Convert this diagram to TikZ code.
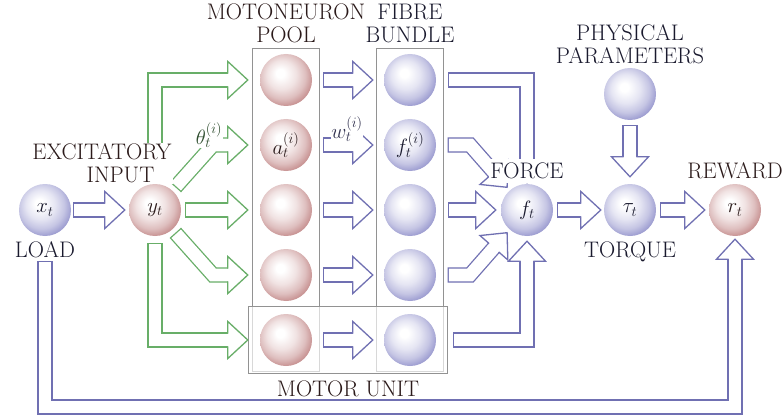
\documentclass[tikz,border=0pt]{standalone}
\usepackage{tikz}
\usetikzlibrary{positioning,fit,backgrounds}
\definecolor{pinkc}{RGB}{182,112,112}
\definecolor{lavc}{RGB}{126,126,194}
\definecolor{arrb}{RGB}{112,112,178}
\definecolor{arrg}{RGB}{104,174,104}
\definecolor{boxc}{HTML}{929292}
\definecolor{inkr}{HTML}{2B1A1A}
\definecolor{inkb}{HTML}{1A1A2E}

\pgfdeclareradialshading{pinkball}{\pgfpoint{-6bp}{7bp}}{color(0bp)=(white); color(4bp)=(white); color(14bp)=(pinkc!20!white); color(22bp)=(pinkc!45!white); color(29bp)=(pinkc!80!white); color(34bp)=(pinkc!95!white); color(50bp)=(pinkc)}
\pgfdeclareradialshading{lavball}{\pgfpoint{-6bp}{7bp}}{color(0bp)=(white); color(4bp)=(white); color(14bp)=(lavc!20!white); color(22bp)=(lavc!45!white); color(29bp)=(lavc!80!white); color(34bp)=(lavc!95!white); color(50bp)=(lavc)}

% hollow block arrow head, shaft comes from a double line
\pgfdeclarearrow{
  name = Fat,
  setup code = {
    \pgfarrowssettipend{0pt}
    \pgfarrowssetlineend{-20pt}
    \pgfarrowssetbackend{-20pt}
    \pgfarrowssetvisualbackend{-20pt}
    \pgfarrowshullpoint{0pt}{0pt}
    \pgfarrowshullpoint{-20pt}{18.5pt}
    \pgfarrowshullpoint{-20pt}{-18.5pt}
  },
  drawing code = {
    \pgfsetlinewidth{1.3pt}
    \pgfsetmiterjoin
    \pgfsetfillcolor{white}
    \pgfpathmoveto{\pgfpoint{-20pt}{7pt}}
    \pgfpathlineto{\pgfpoint{-20pt}{18.5pt}}
    \pgfpathlineto{\pgfpointorigin}
    \pgfpathlineto{\pgfpoint{-20pt}{-18.5pt}}
    \pgfpathlineto{\pgfpoint{-20pt}{-7pt}}
    \pgfusepathqfillstroke
  }
}

\tikzset{
  sphere/.style={circle,minimum size=52pt,inner sep=0pt,font=\fontsize{22.5}{23}\selectfont},
  rball/.style={sphere,shading=pinkball,text=inkr},
  bball/.style={sphere,shading=lavball,text=inkb},
  lbl/.style={font=\fontsize{22.5}{23}\selectfont,align=center,inner sep=1pt},
  colbox/.style={draw=boxc,line width=1.2pt,inner xsep=7pt,inner ysep=5.5pt},
  fat/.style={line width=1.3pt,double=white,double distance=12.7pt,line cap=rect,line join=miter,-{Fat}},
  fatb/.style={fat,draw=arrb},
  fatg/.style={fat,draw=arrg},
}

\begin{document}
\begin{tikzpicture}[x=1pt,y=-1pt]
\useasboundingbox (0,0) rectangle (784,417);
% spheres
\node[bball] (xt) at (45,210) {$x_t$};
\node[rball] (yt) at (155,210) {$y_t$};
\node[rball] (p1) at (286,80) {};
\node[rball] (p2) at (286,145) {$a_t^{(i)}$};
\node[rball] (p3) at (286,210) {};
\node[rball] (p4) at (286,275) {};
\node[rball] (p5) at (286,340) {};
\node[bball] (f1) at (410,80) {};
\node[bball] (f2) at (410,145) {$f_t^{(i)}$};
\node[bball] (f3) at (410,210) {};
\node[bball] (f4) at (410,275) {};
\node[bball] (f5) at (410,340) {};
\node[bball] (ft) at (527,210) {$f_t$};
\node[bball] (phys) at (630,94) {};
\node[bball] (tau) at (630,210) {$\tau_t$};
\node[rball] (rt) at (735,210) {$r_t$};
% boxes behind
\begin{scope}[on background layer]
\fill[white] (0,0) rectangle (784,417);
\node[colbox,fit=(p1)(p5)] (pool) {};
\node[colbox,fit=(f1)(f5)] (fibre) {};
\node[colbox,fill=white,fill opacity=.65,fit=(p5)(f5),inner xsep=11pt,inner ysep=7.5pt] (unit) {};
\end{scope}
% input
\draw[fatb,shorten <=9pt,shorten >=4pt] (xt) -- (yt);
\coordinate (g2) at (213,145);
\coordinate (g4) at (213,275);
\draw[fatg,shorten <=14pt,shorten >=12pt] (yt) |- (p1);
\draw[fatg,shorten <=12pt,shorten >=12pt] (yt) -- (g2) -- (p2);
\draw[fatg,shorten <=11pt,shorten >=12pt] (yt) -- (p3);
\draw[fatg,shorten <=12pt,shorten >=12pt] (yt) -- (g4) -- (p4);
\draw[fatg,shorten <=14pt,shorten >=12pt] (yt) |- (p5);
% motor units
\draw[fatb,shorten <=18pt,shorten >=11pt] (p1) -- (f1);
\draw[fatb,shorten <=18pt,shorten >=11pt] (p2) -- (f2);
\draw[fatb,shorten <=18pt,shorten >=11pt] (p3) -- (f3);
\draw[fatb,shorten <=18pt,shorten >=11pt] (p4) -- (f4);
\draw[fatb,shorten <=18pt,shorten >=11pt] (p5) -- (f5);
% force
\coordinate (c2) at (470,145);
\coordinate (c4) at (470,275);
\draw[fatb,shorten <=19pt,shorten >=1pt] (f1) -| (ft);
\draw[fatb,shorten <=19pt,shorten >=4pt] (f2) -- (c2) -- (ft);
\draw[fatb,shorten <=19pt,shorten >=5pt] (f3) -- (ft);
\draw[fatb,shorten <=19pt,shorten >=4pt] (f4) -- (c4) -- (ft);
\draw[fatb,shorten <=24pt,shorten >=5pt] (f5) -| (ft);
\draw[fatb,shorten <=11pt,shorten >=3pt] (ft) -- (tau);
\draw[fatb,shorten <=12pt,shorten >=7pt] (phys) -- (tau);
\draw[fatb,shorten <=11pt,shorten >=4pt] (tau) -- (rt);
% feedback
\coordinate (fb) at (45,407);
\draw[fatb,shorten <=32pt,shorten >=3pt] (xt) -- (fb) -| (rt);
% labels
\node[lbl,fill=white,text=inkr] (excite) at (102,163.5) {EXCITATORY\\\hspace*{37pt}INPUT};
\node[lbl,text=inkb,below=4pt of xt] (load) {LOAD};
\node[lbl,text=inkr,above=4pt of pool] (poolname) {MOTONEURON\\POOL};
\node[lbl,text=inkb,above=4pt of fibre] (fibrename) {FIBRE\\BUNDLE};
\node[lbl,text=inkr,below=5pt of unit] (unitname) {MOTOR UNIT};
\node[lbl,fill=white,inner ysep=4pt,text=inkb,above=1pt of ft] (force) {FORCE};
\node[lbl,text=inkb,above=3pt of phys] (physname) {PHYSICAL\\PARAMETERS};
\node[lbl,text=inkb,below=4pt of tau] (torque) {TORQUE};
\node[lbl,text=inkr,above=4pt of rt] (reward) {REWARD};
\node[lbl,fill=white,inner sep=.5pt,text=arrg!45!black] (theta) at (209,135) {$\theta_t^{(i)}$};
\node[lbl,fill=white,inner sep=.5pt,text=arrb!45!black] (wlbl) at (347,129) {$w_t^{(i)}$};
\end{tikzpicture}
\end{document}
